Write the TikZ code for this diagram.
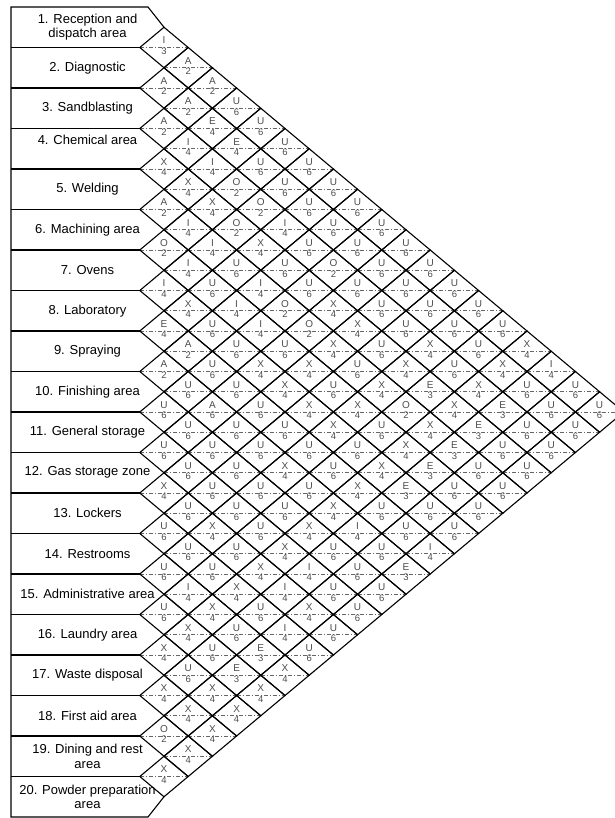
\documentclass[tikz,border=0pt]{standalone}
\usepackage{fontspec}
\setmainfont{Liberation Sans}

\begin{document}
\begin{tikzpicture}[x=1pt, y=-1pt,
    every node/.style={align=center, inner sep=0pt},
    boxline/.style={line width=1.1pt, black},
    cellline/.style={line width=1.1pt, black, line join=miter},
    midline/.style={line width=0.6pt, black!60, dash pattern=on 4pt off 2pt on 1pt off 2pt},
    relcode/.style={font=\fontsize{10}{10}\selectfont, text=black!70},
    relnum/.style={font=\fontsize{9.5}{9.5}\selectfont, text=black!70},
    dept/.style={font=\fontsize{13}{14.5}\selectfont}]
  \useasboundingbox (0,0) rectangle (614,818);

  \draw[boxline] (164,27.25) -- (148,7) -- (11,7) -- (11,817) -- (148,817) -- (164,796.75);
  \foreach \r in {1,...,19}
    \draw[boxline] (11,7+40.5*\r) -- (139.8,7+40.5*\r);

  \foreach \r/\up/\txt in {1/0/{1. Reception and\\dispatch area}, 2/0/{2. Diagnostic},
      3/0/{3. Sandblasting}, 4/9/{4. Chemical area}, 5/0/{5. Welding},
      6/0/{6. Machining area}, 7/0/{7. Ovens}, 8/0/{8. Laboratory},
      9/0/{9. Spraying}, 10/0/{10. Finishing area}, 11/0/{11. General storage},
      12/0/{12. Gas storage zone}, 13/0/{13. Lockers}, 14/0/{14. Restrooms},
      15/0/{15. Administrative area}, 16/0/{16. Laundry area},
      17/0/{17. Waste disposal}, 18/0/{18. First aid area},
      19/0/{19. Dining and rest\\area}, 20/0/{20. Powder preparation\\area}}
    \node[dept] (dep\r) at (87.5,40.5*\r-13.25-\up) {\txt};

  \foreach \i/\cells in {
      1/{I/3,A/2,A/2,U/6,U/6,U/6,U/6,U/6,U/6,U/6,U/6,U/6,U/6,U/6,U/6,X/4,I/4,U/6,U/6},
      2/{A/2,A/2,E/4,E/4,U/6,U/6,U/6,U/6,U/6,U/6,U/6,U/6,U/6,U/6,X/4,U/6,U/6,U/6},
      3/{A/2,I/4,I/4,O/2,O/2,I/4,U/6,O/2,U/6,U/6,U/6,X/4,U/6,X/4,E/3,U/6,U/6},
      4/{X/4,X/4,X/4,O/2,X/4,U/6,U/6,X/4,X/4,U/6,X/4,E/3,X/4,E/3,U/6,U/6},
      5/{A/2,I/4,I/4,U/6,I/4,O/2,O/2,X/4,U/6,X/4,O/2,X/4,E/3,U/6,U/6},
      6/{O/2,I/4,U/6,I/4,I/4,U/6,X/4,U/6,X/4,U/6,X/4,E/3,U/6,U/6},
      7/{I/4,X/4,U/6,U/6,X/4,X/4,X/4,X/4,U/6,X/4,E/3,U/6,U/6},
      8/{E/4,A/2,U/6,U/6,U/6,U/6,U/6,U/6,X/4,U/6,U/6,I/4},
      9/{A/2,U/6,A/6,U/6,U/6,X/4,U/6,X/4,I/4,U/6,E/3},
      10/{U/6,U/6,U/6,U/6,U/6,U/6,X/4,U/6,U/6,U/6},
      11/{U/6,U/6,U/6,U/6,U/6,X/4,I/4,U/6,U/6},
      12/{X/4,U/6,X/4,U/6,X/4,I/4,X/4,U/6},
      13/{U/6,U/6,U/6,X/4,U/6,I/4,U/6},
      14/{U/6,I/4,X/4,U/6,E/3,X/4},
      15/{U/6,X/4,U/6,E/3,X/4},
      16/{X/4,U/6,X/4,X/4},
      17/{X/4,X/4,X/4},
      18/{O/2,X/4},
      19/{X/4}}
    \foreach \l/\n [count=\k] in \cells {
      \pgfmathsetmacro\cx{164+(\k-1)*24.2}
      \pgfmathsetmacro\cy{7+20.25*(2*\i+\k-1)}
      \draw[midline] (\cx-24.2,\cy) -- (\cx+24.2,\cy);
      \draw[cellline] (\cx-24.2,\cy) -- (\cx,\cy-20.25) -- (\cx+24.2,\cy)
        -- (\cx,\cy+20.25) -- cycle;
      \node[relcode] (rel-\i-\k) at (\cx,\cy-7) {\l};
      \node[relnum] (num-\i-\k) at (\cx,\cy+3.5) {\n};
    }
\end{tikzpicture}
\end{document}
